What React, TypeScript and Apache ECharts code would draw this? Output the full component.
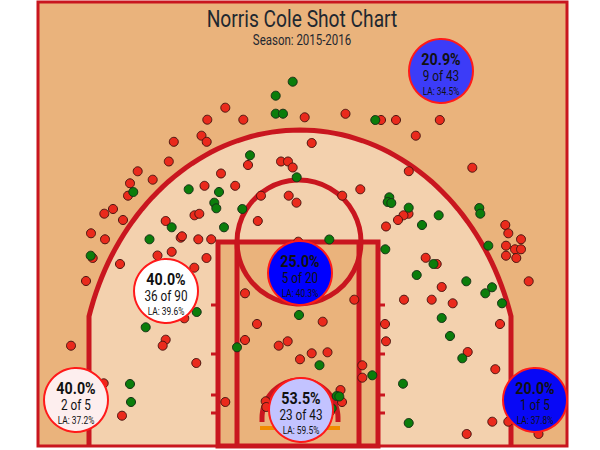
import React, { useEffect, useRef } from "react";
import * as echarts from "echarts";

// ---- Data (court units: x from left edge, y from top edge of the drawing) ----
const madeX = [292.7, 275.7, 275.7, 283, 250, 296.7, 133.3, 188.7, 219, 214.3, 216.3, 242.3, 375.3, 389.3, 387.7, 391.3, 408.7, 422, 438.7, 171.7, 224, 149.5, 329.3, 385.3, 433.5, 416.7, 479.3, 480.3, 90.7, 196.7, 145.7, 237, 299, 130, 131, 488.3, 466.3, 492, 485.3, 502, 441.7, 450, 462.3, 319.5, 372.3, 403, 336.7, 339.3, 408.7, 331.7];
const madeY = [81.7, 95.7, 113.7, 113.7, 155.3, 177.3, 192, 189.3, 192, 202.7, 208.3, 209, 120, 197.3, 202, 203, 207.7, 225, 215.3, 227.3, 227.3, 239.3, 239.5, 249.3, 264, 275, 208, 213.7, 255.7, 312, 327.3, 347.3, 315, 384, 402, 245.7, 281.3, 287.3, 293.3, 303.3, 318, 336, 358.3, 365.2, 375.3, 383.7, 396, 396.5, 423, 408.3];

const missX = [225.3, 207.3, 243.3, 201.5, 206.7, 173.8, 168.8, 248, 281, 288, 292.7, 137.7, 152.7, 130, 128, 221, 204.5, 235.2, 261, 288.7, 296.5, 257.8, 104.3, 113, 123, 165.7, 194.5, 199.3, 304.7, 345.5, 381, 396, 439.8, 415.8, 311.7, 408.8, 342.2, 360.3, 408.5, 403.5, 398, 386, 180.7, 182, 198.3, 211.2, 157.5, 171.7, 206.5, 194.3, 425.7, 436.7, 441.7, 298.3, 472.3, 505.3, 91, 105, 92.7, 120, 86, 184.3, 165.7, 162.7, 71, 196.3, 245, 257, 245, 278.7, 287.7, 300, 103.7, 122, 225.3, 265.7, 266.3, 508.3, 521, 506, 515, 521, 506, 516.3, 528.7, 354.3, 404, 431.7, 452.7, 322.7, 385, 500, 386, 467.7, 311.7, 327.5, 362.3, 362.3, 495.3, 340.5, 342, 330, 492.3, 508.3, 466.7, 538.5];
const missY = [107.7, 119.7, 119.7, 135.7, 141.8, 141.8, 161.5, 165, 161.5, 161.5, 167.5, 171.3, 179.7, 183.3, 195.7, 173.5, 185.8, 185.8, 195.7, 195.7, 202.7, 221, 213.7, 209, 220, 221, 215.3, 213.8, 117.3, 113.8, 120, 120, 120, 135.7, 143, 171.2, 195.7, 189.3, 213.8, 215.3, 220, 226.5, 237.7, 236.3, 239.3, 239.3, 255.5, 251.8, 258, 267.7, 257.8, 264, 287, 241.7, 167.7, 225, 233.3, 239.3, 258, 264, 281, 318.3, 339.7, 345.7, 345.7, 363, 293.3, 324, 340, 345.7, 341.3, 359.3, 383.3, 415.7, 402, 401.3, 407, 233.3, 239.3, 245.7, 249.3, 249.3, 255.7, 258, 281.3, 299.7, 299.7, 299.7, 303.3, 321.7, 324, 324, 341.3, 352, 353.3, 352.3, 365.3, 377.7, 369.2, 390, 402, 411.7, 421.7, 421.7, 434, 434];

const zoneNames = ["Above the Break 3", "Mid-Range Center", "Mid-Range Left", "Left Corner 3", "Restricted Area", "Right Corner 3"];
const zoneX = [441, 300, 166, 76, 301, 535];
const zoneY = [71, 273, 291, 400, 410, 400];
const zoneMade = [9, 5, 36, 2, 23, 1];
const zoneAtt = [43, 20, 90, 5, 43, 5];
const zoneLA = [34.5, 40.3, 39.6, 37.2, 59.5, 37.8];

const titleText = "Norris Cole Shot Chart";
const subtitleText = "Season: 2015-2016";

// ---- Styles & court geometry ----
const ZONE_FILL = ["#3c3cf8", "#0000ff", "#ffffff", "#fdeeee", "#c3c3ff", "#0808f6"];
const COLORS = { outer: "#EAB37C", inner: "#F3D1AE", line: "#C9161F", board: "#F08C00", made: "#0b7d0b", miss: "#ea2a1c" };
const C = {
  left: 38, right: 567, top: 2, base: 446,
  cx: 300, corner: 211, arcA: 220, arcB: 260, arcY: 390,
  paintL: 218, paintR: 378, laneL: 237, laneR: 359, ftY: 242, ftR: 62,
  hashY: [305, 354, 395, 413], hashLen: 7,
  raY: 418, raR: 38, raEnd: 422, boardY: 428, boardHalf: 40,
};
const CONDENSE = 0.84;
const FONT = "Roboto";

function renderCourt(params: any, api: any) {
  const sx = api.size([1, 1])[0];
  const P = (x: number, y: number) => api.coord([x, y]);
  const th0 = Math.acos(C.corner / C.arcA);
  const arc: number[][] = [];
  const N = 80;
  for (let i = 0; i <= N; i++) {
    const th = Math.PI - th0 - ((Math.PI - 2 * th0) * i) / N;
    arc.push(P(C.cx + C.arcA * Math.cos(th), C.arcY - C.arcB * Math.sin(th)));
  }
  const three = [P(C.cx - C.corner, C.base), ...arc, P(C.cx + C.corner, C.base)];
  const ra: number[][] = [P(C.cx - C.raR, C.raEnd)];
  for (let i = 0; i <= 40; i++) {
    const th = Math.PI - (Math.PI * i) / 40;
    ra.push(P(C.cx + C.raR * Math.cos(th), C.raY - C.raR * Math.sin(th)));
  }
  ra.push(P(C.cx + C.raR, C.raEnd));
  const tl = P(C.left, C.top), br = P(C.right, C.base);
  const ptl = P(C.paintL, C.ftY), pbr = P(C.paintR, C.base);
  const lineStyle = { stroke: COLORS.line, lineWidth: 5, fill: "none" };
  const children: any[] = [
    { type: "rect", shape: { x: tl[0], y: tl[1], width: br[0] - tl[0], height: br[1] - tl[1] }, style: { fill: COLORS.outer } },
    { type: "polygon", shape: { points: three }, style: { fill: COLORS.inner } },
    { type: "rect", shape: { x: ptl[0], y: ptl[1], width: pbr[0] - ptl[0], height: pbr[1] - ptl[1] }, style: { fill: COLORS.outer, stroke: COLORS.line, lineWidth: 5 } },
    { type: "polyline", shape: { points: three }, style: { ...lineStyle } },
    { type: "line", shape: { x1: P(C.laneL, C.ftY)[0], y1: P(C.laneL, C.ftY)[1], x2: P(C.laneL, C.base)[0], y2: P(C.laneL, C.base)[1] }, style: { ...lineStyle } },
    { type: "line", shape: { x1: P(C.laneR, C.ftY)[0], y1: P(C.laneR, C.ftY)[1], x2: P(C.laneR, C.base)[0], y2: P(C.laneR, C.base)[1] }, style: { ...lineStyle } },
    { type: "circle", shape: { cx: P(C.cx - 1, C.ftY)[0], cy: P(C.cx - 1, C.ftY)[1], r: C.ftR * sx }, style: { ...lineStyle } },
    { type: "polyline", shape: { points: ra }, style: { ...lineStyle } },
    { type: "line", shape: { x1: P(C.cx - C.boardHalf, C.boardY)[0], y1: P(0, C.boardY)[1], x2: P(C.cx + C.boardHalf, C.boardY)[0], y2: P(0, C.boardY)[1] }, style: { stroke: COLORS.board, lineWidth: 4 } },
  ];
  C.hashY.forEach((hy) => {
    const yy = P(0, hy)[1];
    children.push({ type: "line", shape: { x1: P(C.paintL - C.hashLen, hy)[0], y1: yy, x2: P(C.paintL, hy)[0], y2: yy }, style: { stroke: COLORS.line, lineWidth: 3 } });
    children.push({ type: "line", shape: { x1: P(C.paintR, hy)[0], y1: yy, x2: P(C.paintR + C.hashLen, hy)[0], y2: yy }, style: { stroke: COLORS.line, lineWidth: 3 } });
  });
  children.push({ type: "rect", shape: { x: tl[0], y: tl[1], width: br[0] - tl[0], height: br[1] - tl[1] }, style: { fill: "none", stroke: COLORS.line, lineWidth: 3 } });
  return { type: "group", children };
}

function renderZone(params: any, api: any) {
  const i = params.dataIndex;
  const c = api.coord([api.value(0), api.value(1)]);
  const r = 32 * api.size([1, 1])[0];
  const made = zoneMade[i], att = zoneAtt[i];
  const pct = ((made / att) * 100).toFixed(1) + "%";
  const txt = (text: string, dy: number, size: number, bold: boolean) => ({
    type: "text", x: 0, y: dy, scaleX: CONDENSE,
    style: { text, fontSize: size, fontWeight: bold ? "bold" : "normal", fontFamily: FONT, fill: "#111", align: "center", verticalAlign: "middle" },
  });
  return {
    type: "group", x: c[0], y: c[1],
    children: [
      { type: "circle", shape: { cx: 0, cy: 0, r }, style: { fill: ZONE_FILL[i], stroke: "#ff1a1a", lineWidth: 2 } },
      txt(pct, -11.5, 17, true),
      txt(`${made} of ${att}`, 5, 14, false),
      txt(`LA: ${zoneLA[i].toFixed(1)}%`, 20.5, 10, false),
    ],
  };
}

export default function App() {
  const ref = useRef<HTMLDivElement>(null);
  useEffect(() => {
    if (!ref.current) return;
    const chart = echarts.init(ref.current, null, { renderer: "svg" });
    chart.setOption({
      animation: false,
      backgroundColor: "#ffffff",
      grid: { left: 0, right: 0, top: 0, bottom: 0, containLabel: false },
      xAxis: { type: "value", min: 0, max: 600, show: false },
      yAxis: { type: "value", min: 0, max: 450, inverse: true, show: false },
      graphic: [
        { type: "text", x: 302, y: 19, scaleX: 0.8, z: 100, style: { text: titleText, fontSize: 24, fontFamily: FONT, fill: "#1f2830", align: "center", verticalAlign: "middle" } },
        { type: "text", x: 302, y: 40, scaleX: 0.82, z: 100, style: { text: subtitleText, fontSize: 14, fontFamily: FONT, fill: "#1f2830", align: "center", verticalAlign: "middle" } },
      ],
      series: [
        { type: "custom", name: "court", z: 1, silent: true, data: [[0, 0]], renderItem: renderCourt, clip: false },
        {
          type: "scatter", name: "Missed", z: 2, symbolSize: 9,
          data: missX.map((x, i) => [x, missY[i]]),
          itemStyle: { color: COLORS.miss, borderColor: "#4a1510", borderWidth: 1, opacity: 1 },
        },
        {
          type: "scatter", name: "Made", z: 2, symbolSize: 9,
          data: madeX.map((x, i) => [x, madeY[i]]),
          itemStyle: { color: COLORS.made, borderColor: "#163016", borderWidth: 1, opacity: 1 },
        },
        {
          type: "custom", name: "Zones", z: 3, clip: false,
          data: zoneX.map((x, i) => [x, zoneY[i], zoneMade[i], zoneAtt[i], zoneLA[i], zoneNames[i]]),
          renderItem: renderZone,
        },
      ],
    });
    return () => chart.dispose();
  }, []);
  return <div ref={ref} style={{ position: "fixed", left: 0, top: 0, width: 600, height: 450, background: "#fff" }} />;
}
